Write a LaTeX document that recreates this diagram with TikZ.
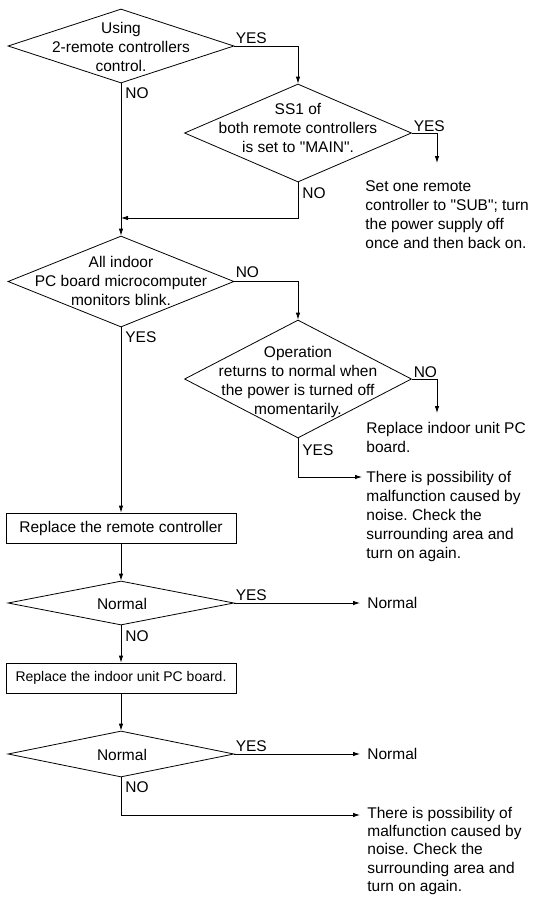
\documentclass[tikz,border=0pt]{standalone}
\usepackage{fontspec}
\setmainfont{Liberation Sans}[Ligatures=TeXOff]
\frenchspacing
\usetikzlibrary{arrows.meta,shapes.geometric,calc}
\begin{document}
\begin{tikzpicture}[x=1pt,y=-1pt,
  line width=0.8pt,
  font=\fontsize{15.5}{19}\selectfont,
  arr/.style={-{Latex[length=7pt,width=4.5pt]}},
  dia/.style={draw, diamond, inner sep=0pt},
  txt/.style={inner sep=0pt, align=center},
  rt/.style={inner sep=0pt, align=left, anchor=north west},
  lbl/.style={inner sep=0pt, anchor=base west},
  boxnode/.style={draw, inner sep=0pt, minimum width=230pt, minimum height=30pt}
]
\path[use as bounding box] (0,0) rectangle (536,898);

% decisions and boxes
\node[dia, minimum width=226pt, minimum height=74pt] (d1) at (121,46) {};
\node[txt] (d1t) at (121,47) {Using\\2-remote controllers\\control.};

\node[dia, minimum width=227pt, minimum height=98pt] (d2) at (298,133) {};
\node[txt] (d2t) at (298,128) {SS1 of\\both remote controllers\\is set to "MAIN".};
\coordinate (c1) at (437,163);
\node[rt] (t1) at (365,180.5) {Set one remote\\controller to "SUB"; turn\\the power supply off\\once and then back on.};
\coordinate (j1) at (121,218);

\node[dia, minimum width=226pt, minimum height=91pt] (d3) at (121,281.5) {};
\node[txt] (d3t) at (121,281) {All indoor\\PC board microcomputer\\monitors blink.};

\node[dia, minimum width=227pt, minimum height=118pt] (d4) at (298,379) {};
\node[txt] (d4t) at (298,382) {Operation\\returns to normal when\\the power is turned off\\momentarily.};
\coordinate (c2) at (437,413);
\node[rt] (t2) at (366,422) {Replace indoor unit PC\\board.};
\coordinate (c3) at (362,477);
\node[rt] (t3) at (366,470.5) {There is possibility of\\malfunction caused by\\noise. Check the\\surrounding area and\\turn on again.};

\node[boxnode] (b1) at (121,528) {Replace the remote controller};

\node[dia, minimum width=226pt, minimum height=44pt] (d5) at (121,603) {};
\node[txt] (d5t) at (122,604) {Normal};
\coordinate (c4) at (360,603);
\node[txt, anchor=west] (n1) at (367,603) {Normal};

\node[boxnode] (b2) at (121,678) {\fontsize{14}{17}\selectfont Replace the indoor unit PC board.};

\node[dia, minimum width=226pt, minimum height=46pt] (d6) at (121,754) {};
\node[txt] (d6t) at (122,755) {Normal};
\coordinate (c5) at (360,754);
\node[txt, anchor=west] (n2) at (367,754) {Normal};
\coordinate (c6) at (360,815);
\node[rt, font=\fontsize{15.5}{18.4}\selectfont] (t6) at (367,806.5) {There is possibility of\\malfunction caused by\\noise. Check the\\surrounding area and\\turn on again.};

% connectors
\draw[arr] (d1.east) -| (d2.north);
\draw[arr] (d2.east) -| (c1);
\draw[arr] (d2.south) |- (j1);
\draw[arr] (d1.south) -- (d3.north);
\draw[arr] (d3.east) -| (d4.north);
\draw[arr] (d4.east) -| (c2);
\draw[arr] (d4.south) |- (c3);
\draw[arr] (d3.south) -- (b1.north);
\draw[arr] (b1.south) -- (d5.north);
\draw[arr] (d5.east) -- (c4);
\draw[arr] (d5.south) -- (b2.north);
\draw[arr] (b2.south) -- (d6.north);
\draw[arr] (d6.east) -- (c5);
\draw[arr] (d6.south) |- (c6);

% labels
\node[lbl] (l1) at ([xshift=1pt,yshift=3pt]d1.east) {YES};
\node[lbl] (l2) at ([xshift=4pt,yshift=-15pt]d1.south) {NO};
\node[lbl] (l3) at ([xshift=1.5pt,yshift=1.5pt]d2.east) {YES};
\node[lbl] (l4) at ([xshift=4pt,yshift=-16pt]d2.south) {NO};
\node[lbl] (l5) at ([xshift=1pt,yshift=4pt]d3.east) {NO};
\node[lbl] (l6) at ([xshift=4pt,yshift=-15pt]d3.south) {YES};
\node[lbl] (l7) at ([xshift=1.5pt,yshift=2pt]d4.east) {NO};
\node[lbl] (l8) at ([xshift=4pt,yshift=-17pt]d4.south) {YES};
\node[lbl] (l9) at ([xshift=1pt,yshift=3pt]d5.east) {YES};
\node[lbl] (l10) at ([xshift=4pt,yshift=-16pt]d5.south) {NO};
\node[lbl] (l11) at ([xshift=1pt,yshift=3pt]d6.east) {YES};
\node[lbl] (l12) at ([xshift=4pt,yshift=-15pt]d6.south) {NO};
\end{tikzpicture}
\end{document}
